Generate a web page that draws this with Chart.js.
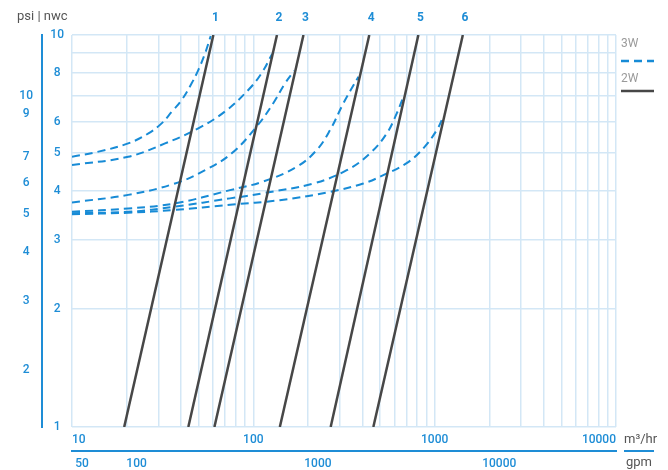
<!DOCTYPE html>
<html>
<head>
<meta charset="utf-8">
<script src="https://cdn.jsdelivr.net/npm/chart.js@4/dist/chart.umd.min.js"></script>
<style>
  body { margin: 0; background: #fff; }
  canvas { display: block; }
</style>
</head>
<body>
<canvas id="myChart" width="668" height="470"></canvas>
<script>
//tick labels
const xTickLabels = [10, 100, 1000, 10000]
const gpmTickLabels = [50, 100, 1000, 10000]
const psiTickLabels = [1, 2, 3, 4, 5, 6, 8, 10]
const nwcTickLabels = [2, 3, 4, 5, 6, 7, 9, 10]

//unit conversions used by the secondary axes
const gpmPerM3 = 4.403
const nwcPerPsi = 1.43

//2W lines: flow (m3/hr) where each line hits 1 and 10
const valveNames = ['1', '2', '3', '4', '5', '6']
const flowAtLow = [19.4, 43.8, 61, 140, 267, 459]
const flowAtHigh = [60.2, 135, 189, 436, 813, 1430]
const dpEnds = [1, 10]

//3W curves
const curve1Flow = [10, 14, 20.4, 26.4, 31.2, 35.5, 40.3, 45.7, 49.7, 54.2, 58.2]
const curve1Dp = [4.89, 5.04, 5.29, 5.61, 5.95, 6.37, 6.83, 7.53, 8.14, 8.98, 9.94]
const curve2Flow = [10, 20.4, 32.6, 49.7, 69.8, 93.8, 111, 127]
const curve2Dp = [4.66, 4.89, 5.29, 5.78, 6.38, 7.24, 7.99, 8.95]
const curve3Flow = [10, 20.4, 37, 54.2, 76, 104, 128.8, 149.6, 168]
const curve3Dp = [3.74, 3.91, 4.18, 4.52, 4.99, 5.83, 6.7, 7.53, 8.1]
const curve4Flow = [10, 20.4, 37, 74.4, 113.6, 173.5, 223.7, 265, 314, 380]
const curve4Dp = [3.54, 3.61, 3.72, 4.02, 4.23, 4.61, 5.09, 5.72, 6.7, 7.83]
const curve5Flow = [10, 20.4, 37, 74.4, 113.6, 214, 327.5, 440, 544, 618, 672]
const curve5Dp = [3.51, 3.54, 3.65, 3.83, 3.95, 4.18, 4.52, 4.99, 5.61, 6.31, 6.96]
const curve6Flow = [10, 20.4, 37, 74.4, 140, 265, 404, 521, 701, 866, 1027, 1117]
const curve6Dp = [3.49, 3.52, 3.58, 3.69, 3.79, 3.98, 4.18, 4.39, 4.71, 5.14, 5.72, 6.19]

//colors
const blue = '#1e8dd6'
const dashBlue = '#178bd6'
const darkGray = '#474747'
const gridColor = '#d3e7f6'
const tickFont = { family: 'Roboto', size: 12, weight: '500' }

//minor grid values (1..9 per decade)
const gridX = []
for (let p = 10; p < 10000; p *= 10) {
    for (let d = 1; d < 10; d++) gridX.push(d * p)
}
gridX.push(10000)
const gridY = [1, 2, 3, 4, 5, 6, 7, 8, 9, 10]

const zip = (xs, ys) => xs.map((x, i) => ({ x: x, y: ys[i] }))

const curves3W = [
    [curve1Flow, curve1Dp], [curve2Flow, curve2Dp], [curve3Flow, curve3Dp],
    [curve4Flow, curve4Dp], [curve5Flow, curve5Dp], [curve6Flow, curve6Dp]
]

const datasets = []
curves3W.forEach((c, i) => {
    datasets.push({
        label: '3W ' + valveNames[i],
        data: zip(c[0], c[1]),
        borderColor: dashBlue,
        borderWidth: 2,
        borderDash: [8, 5],
        pointRadius: 0,
        tension: 0.4,
        order: 1
    })
})
valveNames.forEach((name, i) => {
    datasets.push({
        label: name,
        kind: '2W',
        data: zip([flowAtLow[i], flowAtHigh[i]], dpEnds),
        borderColor: darkGray,
        borderWidth: 2.5,
        pointRadius: 0,
        order: 0
    })
})

//extra text: title, units, legend and line numbers
const extras = {
    id: 'extras',
    afterDraw(chart) {
        const c = chart.ctx
        const area = chart.chartArea
        const gpm = chart.scales.gpm
        c.save()
        c.textBaseline = 'middle'
        c.textAlign = 'left'

        c.font = '13px Roboto'
        c.fillStyle = '#555'
        c.fillText('psi | nwc', 17, 17)
        c.fillText('m³/hr', area.right + 8, 440)
        c.fillText('gpm', area.right + 10, 463)

        c.strokeStyle = blue
        c.lineWidth = 2
        c.beginPath()
        c.moveTo(area.right + 8, gpm.top)
        c.lineTo(area.right + 38, gpm.top)
        c.stroke()

        //legend
        c.font = '12px Roboto'
        c.fillStyle = '#9a9a9a'
        c.fillText('3W', area.right + 5, 44)
        c.fillText('2W', area.right + 5, 79)
        c.strokeStyle = dashBlue
        c.lineWidth = 2.5
        c.setLineDash([8, 5])
        c.beginPath()
        c.moveTo(area.right + 5, 61)
        c.lineTo(area.right + 38, 61)
        c.stroke()
        c.setLineDash([])
        c.strokeStyle = darkGray
        c.lineWidth = 2.5
        c.beginPath()
        c.moveTo(area.right + 5, 91)
        c.lineTo(area.right + 38, 91)
        c.stroke()

        //valve numbers over the 2W lines
        c.font = 'bold 12px Roboto'
        c.fillStyle = blue
        c.textAlign = 'center'
        chart.data.datasets.forEach((ds, i) => {
            if (ds.kind !== '2W') return
            const pt = chart.getDatasetMeta(i).data[1]
            c.fillText(ds.label, pt.x + 2, 18)
        })
        c.restore()
    }
}

const ctx = document.getElementById('myChart').getContext('2d')
var chart = new Chart(ctx, {
    type: 'line',
    data: { datasets: datasets },
    plugins: [extras],
    options: {
        responsive: false,
        animation: false,
        devicePixelRatio: 1,
        layout: { padding: { left: 12, right: 52, top: 35, bottom: 0 } },
        plugins: { legend: { display: false }, tooltip: { enabled: false } },
        scales: {
            x: {
                type: 'logarithmic',
                position: 'bottom',
                weight: 0,
                min: 10,
                max: 10000,
                afterBuildTicks: s => { s.ticks = gridX.map(v => ({ value: v })) },
                afterFit: s => { s.height = 24 },
                grid: { color: gridColor, lineWidth: 1.5, drawTicks: false },
                border: { display: false },
                ticks: {
                    autoSkip: false, maxRotation: 0, align: 'inner', padding: 6,
                    color: blue, font: tickFont,
                    callback: v => xTickLabels.includes(v) ? String(v) : ''
                }
            },
            gpm: {
                type: 'logarithmic',
                position: 'bottom',
                weight: 1,
                min: 10 * gpmPerM3,
                max: 10000 * gpmPerM3,
                afterBuildTicks: s => { s.ticks = gpmTickLabels.map(v => ({ value: v })) },
                afterFit: s => { s.height = 19 },
                grid: { drawOnChartArea: false, drawTicks: false },
                border: { color: blue, width: 2 },
                ticks: {
                    autoSkip: false, maxRotation: 0, padding: 6,
                    color: blue, font: tickFont,
                    callback: v => String(v)
                }
            },
            y: {
                type: 'logarithmic',
                position: 'left',
                weight: 0,
                min: 1,
                max: 10,
                afterBuildTicks: s => { s.ticks = gridY.map(v => ({ value: v })) },
                afterFit: s => { s.width = 30 },
                grid: { color: gridColor, lineWidth: 1.5, drawTicks: false },
                border: { display: false },
                ticks: {
                    autoSkip: false, crossAlign: 'center', padding: 8,
                    color: blue, font: tickFont,
                    callback: v => psiTickLabels.includes(v) ? String(v) : ''
                }
            },
            nwc: {
                type: 'logarithmic',
                position: 'left',
                weight: 1,
                min: nwcPerPsi,
                max: 10 * nwcPerPsi,
                afterBuildTicks: s => { s.ticks = nwcTickLabels.map(v => ({ value: v })) },
                afterFit: s => { s.width = 30 },
                grid: { drawOnChartArea: false, drawTicks: false },
                border: { color: blue, width: 2 },
                ticks: {
                    autoSkip: false, crossAlign: 'center', padding: 9,
                    color: blue, font: tickFont,
                    callback: v => String(v)
                }
            }
        }
    }
})
</script>
</body>
</html>
